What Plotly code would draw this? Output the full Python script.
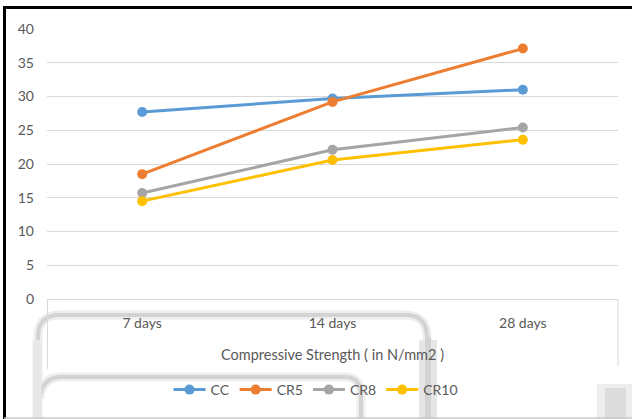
import plotly.graph_objects as go

# Compressive strength results by curing age
ages = ["7 days", "14 days", "28 days"]
cc = [27.7, 29.7, 31.0]
cr5 = [18.5, 29.2, 37.1]
cr8 = [15.7, 22.1, 25.4]
cr10 = [14.5, 20.6, 23.6]
series_names = ["CC", "CR5", "CR8", "CR10"]
series_colors = ["#5b9bd5", "#ed7d31", "#a5a5a5", "#ffc000"]
y_ticks = [0, 5, 10, 15, 20, 25, 30, 35, 40]

W, H = 632, 419
L, R, T, B = 47, 618, 29, 299  # plot area in pixels

def px(x):
    return (x - L) / (R - L)

def py(y):
    return (B - y) / (B - T)

fig = go.Figure()
for name, vals, col in zip(series_names, [cc, cr5, cr8, cr10], series_colors):
    fig.add_trace(go.Scatter(
        x=ages, y=vals, name=name, mode="lines+markers",
        line=dict(color=col, width=3),
        marker=dict(color=col, size=10),
    ))

FAMILY = "Lato, Open Sans, sans-serif"
font = dict(family=FAMILY, size=14, color="#595959")

def path(points_cmds):
    out = []
    for cmd, pts in points_cmds:
        coords = " ".join(f"{px(x):.5f},{py(y):.5f}" for x, y in pts)
        out.append(f"{cmd} {coords}")
    return " ".join(out)

shapes = []
# frame around the axis-title region
shapes.append(dict(type="line", xref="paper", yref="paper", x0=px(47.5), x1=px(47.5),
                   y0=py(299), y1=py(369), line=dict(color="#d9d9d9", width=1)))
shapes.append(dict(type="line", xref="paper", yref="paper", x0=px(618), x1=px(618),
                   y0=py(299), y1=py(366), line=dict(color="#d9d9d9", width=1)))

# soft grey rounded bands in the lower part
band_a = path([("M", [(38, 420)]), ("L", [(38, 337)]), ("Q", [(38, 315), (60, 315)]),
               ("L", [(405, 315)]), ("Q", [(427, 315), (427, 337)]), ("L", [(427, 420)])])
band_b = path([("M", [(40, 398)]), ("Q", [(42, 377), (62, 377)]),
               ("L", [(345, 377)]), ("Q", [(361, 377), (361, 395)]), ("L", [(361, 420)])])
for p in (band_a, band_b):
    shapes.append(dict(type="path", xref="paper", yref="paper", path=p,
                       line=dict(color="#eeeeee", width=9), layer="below"))
    shapes.append(dict(type="path", xref="paper", yref="paper", path=p,
                       line=dict(color="#d3d3d3", width=4), layer="below"))
# wider soft descents
shapes.append(dict(type="line", xref="paper", yref="paper", x0=px(428), x1=px(428),
                   y0=py(340), y1=py(420), line=dict(color="#e6e6e6", width=18), layer="below"))
shapes.append(dict(type="line", xref="paper", yref="paper", x0=px(428), x1=px(428),
                   y0=py(337), y1=py(420), line=dict(color="#d3d3d3", width=6), layer="below"))
shapes.append(dict(type="line", xref="paper", yref="paper", x0=px(37), x1=px(37),
                   y0=py(340), y1=py(420), line=dict(color="#e8e8e8", width=9), layer="below"))
# blurred block at lower right
shapes.append(dict(type="rect", xref="paper", yref="paper", x0=px(597), x1=px(632),
                   y0=py(384), y1=py(420), fillcolor="#eeeeee", line=dict(width=0), layer="below"))
shapes.append(dict(type="rect", xref="paper", yref="paper", x0=px(605), x1=px(626),
                   y0=py(388), y1=py(420), fillcolor="#dcdcdc", line=dict(width=0), layer="below"))

# outer border: black on top/left, light grey at bottom
shapes.append(dict(type="line", xref="paper", yref="paper", x0=px(4), x1=px(633),
                   y0=py(7.5), y1=py(7.5), line=dict(color="#000000", width=3)))
shapes.append(dict(type="line", xref="paper", yref="paper", x0=px(4.5), x1=px(4.5),
                   y0=py(6), y1=py(420), line=dict(color="#000000", width=3)))
shapes.append(dict(type="line", xref="paper", yref="paper", x0=px(4), x1=px(633),
                   y0=py(418), y1=py(418), line=dict(color="#c8c8c8", width=1.5)))

fig.update_layout(
    width=W, height=H, autosize=False,
    margin=dict(l=L, r=W - R, t=T, b=H - B, pad=0),
    paper_bgcolor="white", plot_bgcolor="white",
    font=font,
    showlegend=True,
    legend=dict(orientation="h", x=px(316), y=py(390), xanchor="center", yanchor="middle",
                font=font, itemwidth=32, tracegroupgap=0, bgcolor="rgba(0,0,0,0)"),
    xaxis=dict(type="category", range=[-0.5, 2.5], showgrid=False, zeroline=False,
               showline=False, ticks="", ticklabelstandoff=14,
               tickfont=font,
               title=dict(text="Compressive Strength ( in N/mm2 )",
                          font=dict(family=FAMILY, size=14.5, color="#595959"), standoff=19)),
    yaxis=dict(range=[0, 40], tickvals=y_ticks, showgrid=True, gridcolor="#d9d9d9",
               gridwidth=1, zeroline=True, zerolinecolor="#d9d9d9", zerolinewidth=1,
               showline=False, ticks="", ticklabelstandoff=12, tickfont=font),
    shapes=shapes,
)

fig.write_html("out.html")
